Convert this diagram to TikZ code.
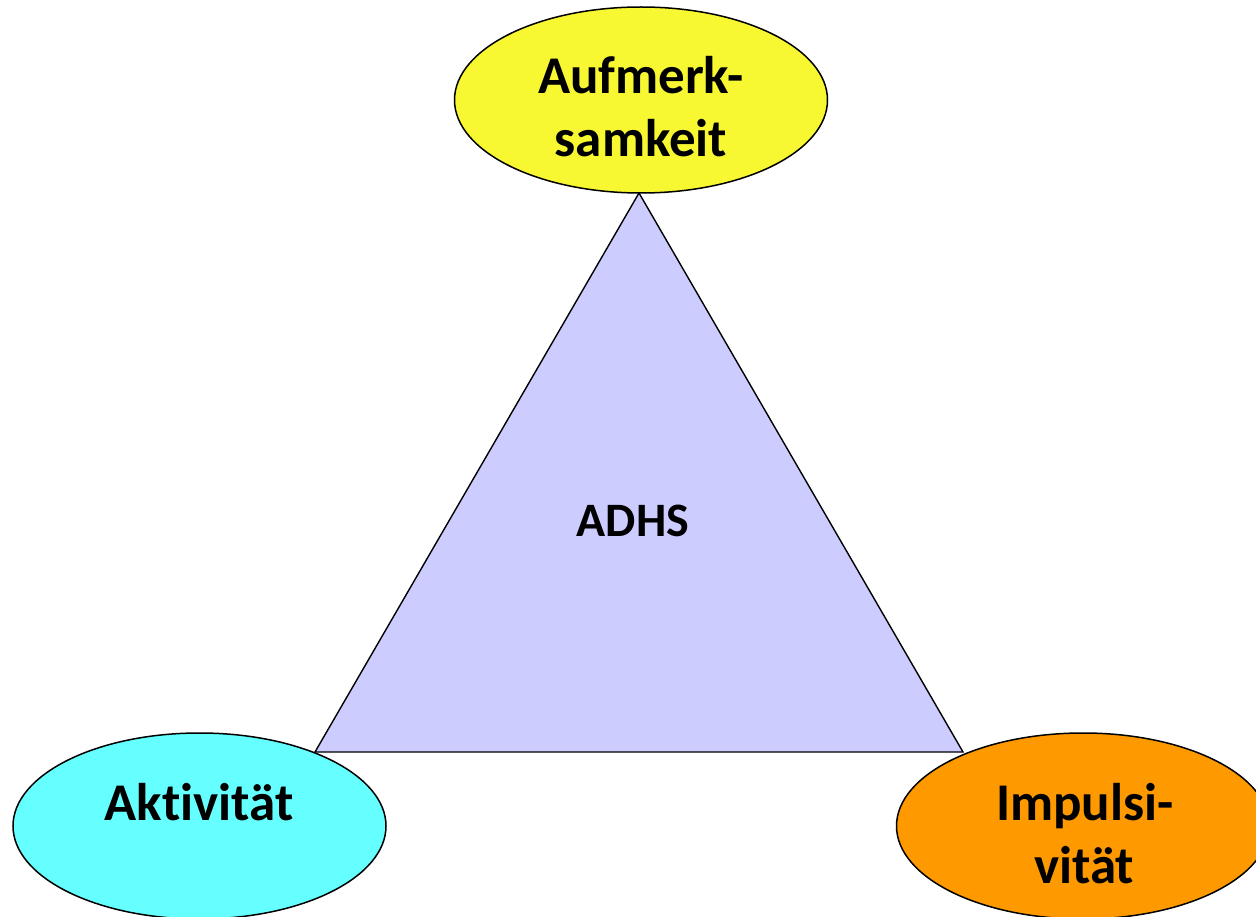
\documentclass[tikz,border=0pt]{standalone}
\usepackage{fontspec}
\setmainfont{Carlito}[Ligatures={NoCommon}]
\usetikzlibrary{shapes.geometric}
\definecolor{cyellow}{HTML}{F8F832}
\definecolor{ccyan}{HTML}{66FFFF}
\definecolor{corange}{HTML}{FF9900}
\definecolor{clav}{HTML}{CCCCFF}
\tikzset{
  blob/.style={ellipse, draw=black, line width=1.5pt, minimum width=373pt, minimum height=186pt, inner sep=0pt},
  bigtxt/.style={anchor=base, inner sep=0pt, font=\fontsize{53}{63}\selectfont\bfseries},
}
\begin{document}
\begin{tikzpicture}[x=1pt,y=-1pt]
\useasboundingbox (0,0) rectangle (1256,917);
\coordinate (apex) at (639,193);
\coordinate (bl) at (315,752);
\coordinate (br) at (963,752);
\draw[fill=clav, line width=1.4pt, line join=miter] (apex) -- (bl) -- (br) -- cycle;
\node[blob, fill=cyellow] (top) at (641,100) {};
\node[blob, fill=ccyan] (left) at (199.5,826) {};
\node[blob, fill=corange] (right) at (1083,826) {};
\node[bigtxt] (t1) at (641,94) {Aufmerk-};
\node[bigtxt] (t2) at (641,157) {samkeit};
\node[bigtxt] (l1) at (199,820) {Aktivität};
\node[bigtxt] (r1) at (1085,820) {Impulsi-};
\node[bigtxt] (r2) at (1084,883) {vität};
\node[anchor=base, inner sep=0pt, font=\fontsize{48}{56}\selectfont\bfseries] (adhs) at (633,536) {ADHS};
\end{tikzpicture}
\end{document}
